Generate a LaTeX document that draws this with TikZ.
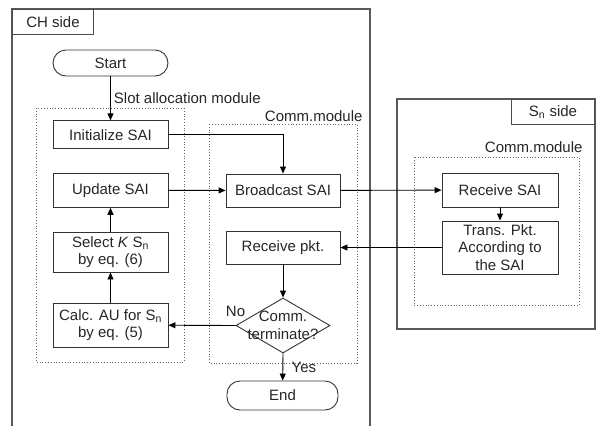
\documentclass[tikz,border=0pt]{standalone}
\usepackage{fontspec}
\setmainfont{Liberation Sans}
\usetikzlibrary{arrows.meta,shapes.geometric,positioning}

\tikzset{
  frame/.style={draw=black!65, line width=1.5pt},
  tag/.style={draw=black!70, line width=1pt, minimum height=25pt, inner sep=2pt},
  procbox/.style={draw=black!80, line width=0.9pt, minimum width=115pt, align=center, inner sep=1pt},
  termbox/.style={procbox, rounded corners=13pt},
  decision/.style={diamond, draw=black!80, line width=0.9pt, minimum width=94pt, minimum height=55pt, inner sep=0pt},
  module/.style={draw=black!60, dotted, line width=0.8pt},
  flow/.style={-{Triangle[length=7pt,width=6pt]}, line width=0.9pt}
}

\begin{document}
\begin{tikzpicture}[x=1pt,y=-1pt,font=\fontsize{15}{17.5}\selectfont,text=black!85]
\useasboundingbox (0,0) rectangle (597,426);
% Rahmen
\draw[frame] (12,426) -- (12,9) -- (370,9) -- (370,426);
\draw[frame] (397,99) rectangle (595,329);
\node[tag, anchor=north west, minimum width=81pt] (chtag) at (12,9) {CH side};
\node[tag, anchor=north east, minimum width=83pt] (sntag) at (595,99) {S\textsubscript{n} side};
% Module
\draw[module] (36,108) rectangle (184,362);
\draw[module] (209,124) rectangle (357,363);
\draw[module] (414,157) rectangle (579,305);
\node[anchor=east] (commch) at (366,116) {Comm.module};
\node[anchor=east] (commsn) at (586,147) {Comm.module};
% CH Knoten
\node[termbox, minimum height=26pt] (start) at (110.5,63) {Start};
\node[procbox, minimum height=28pt] (init) at (110.5,134.8) {Initialize SAI};
\node[procbox, minimum height=34pt] (update) at (110.5,190.3) {Update SAI};
\node[procbox, minimum height=40pt] (select) at (110.5,252) {Select \textit{K} S\textsubscript{n}\\by eq. (6)};
\node[procbox, minimum height=44pt] (calc) at (110.5,325) {Calc. AU for S\textsubscript{n}\\by eq. (5)};
\node[procbox, minimum width=114pt, minimum height=33pt] (bcast) at (283,190.5) {Broadcast SAI};
\node[procbox, minimum width=114pt, minimum height=33pt] (rpkt) at (283,247.5) {Receive pkt.};
\node[decision, label={[align=center]center:Comm.\\terminate?}] (term) at (283,325.5) {};
\node[termbox, minimum width=111pt, minimum height=29pt] (end) at (282.5,395.5) {End};
% Sn Knoten
\node[procbox, minimum width=116pt, minimum height=34pt] (rsai) at (500,190) {Receive SAI};
\node[procbox, minimum width=116pt, minimum height=53pt] (trans) at (500,247.5) {Trans. Pkt.\\According to\\the SAI};
% Pfeile
\draw[flow] (start) -- node[right, inner sep=3pt] (slotlbl) {Slot allocation module} (init);
\draw[flow] (init.east) -| (bcast.north);
\draw[flow] (update) -- (bcast);
\draw[flow] (select) -- (update);
\draw[flow] (calc) -- (select);
\draw[flow] (bcast) -- (rsai);
\draw[flow] (rsai) -- (trans);
\draw[flow] (trans) -- (rpkt);
\draw[flow] (rpkt) -- (term);
\draw[flow] (term.west) -- (calc);
\draw[flow] (term.south) -- node[right=5pt] (yeslbl) {Yes} (end);
\node (nolbl) at ([yshift=14pt]term.west) {No};
\end{tikzpicture}
\end{document}
